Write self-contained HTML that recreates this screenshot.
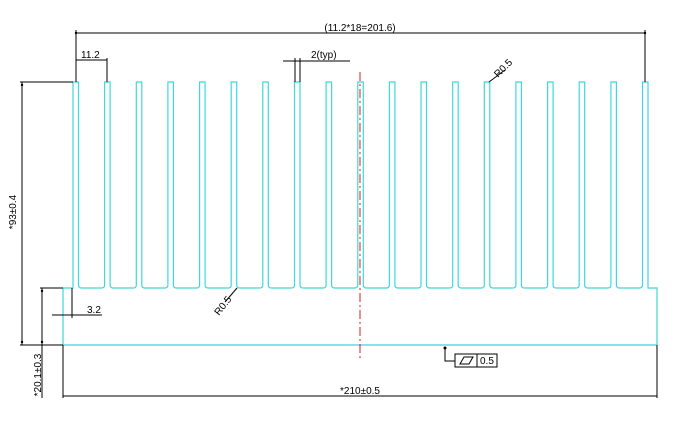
<!DOCTYPE html>
<html><head><meta charset="utf-8"><style>
html,body{margin:0;padding:0;background:#fff;width:697px;height:425px;overflow:hidden}
svg text{font-family:"Liberation Sans",sans-serif;font-size:10px;fill:#000}
</style></head><body>
<svg width="697" height="425" viewBox="0 0 697 425" xmlns="http://www.w3.org/2000/svg">
<g fill="none" stroke="#3fd8d8" stroke-width="1.2">
<path d="M63,345 L63,288 L73,288 L73,82 L78.5,82 L78.5,285 Q78.5,288 81.5,288 L101.6,288 Q104.6,288 104.6,285
L104.6,82 L110.1,82 L110.1,285 Q110.1,288 113.1,288 L133.3,288 Q136.3,288 136.3,285
L136.3,82 L141.8,82 L141.8,285 Q141.8,288 144.8,288 L164.9,288 Q167.9,288 167.9,285
L167.9,82 L173.4,82 L173.4,285 Q173.4,288 176.4,288 L196.6,288 Q199.6,288 199.6,285
L199.6,82 L205.1,82 L205.1,285 Q205.1,288 208.1,288 L228.2,288 Q231.2,288 231.2,285
L231.2,82 L236.7,82 L236.7,285 Q236.7,288 239.7,288 L259.8,288 Q262.8,288 262.8,285
L262.8,82 L268.3,82 L268.3,285 Q268.3,288 271.3,288 L291.5,288 Q294.5,288 294.5,285
L294.5,82 L300,82 L300,285 Q300,288 303,288 L323.1,288 Q326.1,288 326.1,285
L326.1,82 L331.6,82 L331.6,285 Q331.6,288 334.6,288 L354.8,288 Q357.8,288 357.8,285
L357.8,82 L363.3,82 L363.3,285 Q363.3,288 366.3,288 L386.4,288 Q389.4,288 389.4,285
L389.4,82 L394.9,82 L394.9,285 Q394.9,288 397.9,288 L418,288 Q421,288 421,285
L421,82 L426.5,82 L426.5,285 Q426.5,288 429.5,288 L449.7,288 Q452.7,288 452.7,285
L452.7,82 L458.2,82 L458.2,285 Q458.2,288 461.2,288 L481.3,288 Q484.3,288 484.3,285
L484.3,82 L489.8,82 L489.8,285 Q489.8,288 492.8,288 L512.9,288 Q515.9,288 515.9,285
L515.9,82 L521.4,82 L521.4,285 Q521.4,288 524.4,288 L544.6,288 Q547.6,288 547.6,285
L547.6,82 L553.1,82 L553.1,285 Q553.1,288 556.1,288 L576.2,288 Q579.2,288 579.2,285
L579.2,82 L584.7,82 L584.7,285 Q584.7,288 587.7,288 L607.9,288 Q610.9,288 610.9,285
L610.9,82 L616.4,82 L616.4,285 Q616.4,288 619.4,288 L639.5,288 Q642.5,288 642.5,285
L642.5,82 L648,82 L648,288 L657,288 L657,345 Z"/>
</g>
<line x1="360" y1="72" x2="360" y2="358" stroke="#d02020" stroke-width="1" stroke-dasharray="9,3,2,3"/>
<g stroke="#000" stroke-width="1" fill="none">
<!-- top overall -->
<line x1="76" y1="33" x2="645" y2="33"/>
<line x1="76" y1="30" x2="76" y2="82"/>
<line x1="645" y1="30" x2="645" y2="82"/>
<!-- 11.2 -->
<line x1="76" y1="60" x2="107" y2="60"/>
<line x1="107" y1="58" x2="107" y2="82"/>
<!-- 2(typ) -->
<line x1="283" y1="61" x2="350" y2="61"/>
<line x1="295" y1="58" x2="295" y2="82"/>
<line x1="300" y1="58" x2="300" y2="82"/>
<!-- left 93 -->
<line x1="20" y1="82" x2="73" y2="82"/>
<line x1="22" y1="82" x2="22" y2="345"/>
<line x1="20" y1="345" x2="63" y2="345"/>
<!-- 20.1 -->
<line x1="40" y1="288" x2="63" y2="288"/>
<line x1="42" y1="288" x2="42" y2="398"/>
<!-- 3.2 -->
<line x1="52" y1="315" x2="102" y2="315"/>
<line x1="72" y1="288" x2="72" y2="318"/>
<!-- bottom 210 -->
<line x1="63" y1="345" x2="63" y2="398"/>
<line x1="657" y1="345" x2="657" y2="398"/>
<line x1="63" y1="396" x2="657" y2="396"/>
<!-- R0.5 leaders -->
<line x1="489" y1="82" x2="505" y2="70"/>
<line x1="237" y1="288" x2="225" y2="302"/>
<!-- flatness -->
<polyline points="445,347 445,361 455,361"/>
<rect x="455" y="354" width="42" height="13"/>
<line x1="477" y1="354" x2="477" y2="367"/>
<polygon points="460,364 464,357 473,357 469,364"/>
</g>
<g fill="#000">
<circle cx="76" cy="33" r="1.2"/><circle cx="645" cy="33" r="1.2"/>
<circle cx="22" cy="85" r="1.2"/><circle cx="22" cy="342" r="1.2"/>
<circle cx="42" cy="291" r="1.2"/><circle cx="42" cy="342" r="1.2"/>
<circle cx="445" cy="348" r="1.5"/>
</g>
<text x="360" y="31" text-anchor="middle">(11.2*18=201.6)</text>
<text x="81" y="58">11.2</text>
<text x="311" y="58">2(typ)</text>
<text x="87" y="313">3.2</text>
<text x="360" y="394" text-anchor="middle">*210±0.5</text>
<text x="480" y="364">0.5</text>
<text transform="translate(16,212) rotate(-90)" text-anchor="middle">*93±0.4</text>
<text transform="translate(41,375) rotate(-90)" text-anchor="middle">*20.1±0.3</text>
<text transform="translate(498,78) rotate(-45)">R0.5</text>
<text transform="translate(219,316) rotate(-52)">R0.5</text>
</svg>
</body></html>
